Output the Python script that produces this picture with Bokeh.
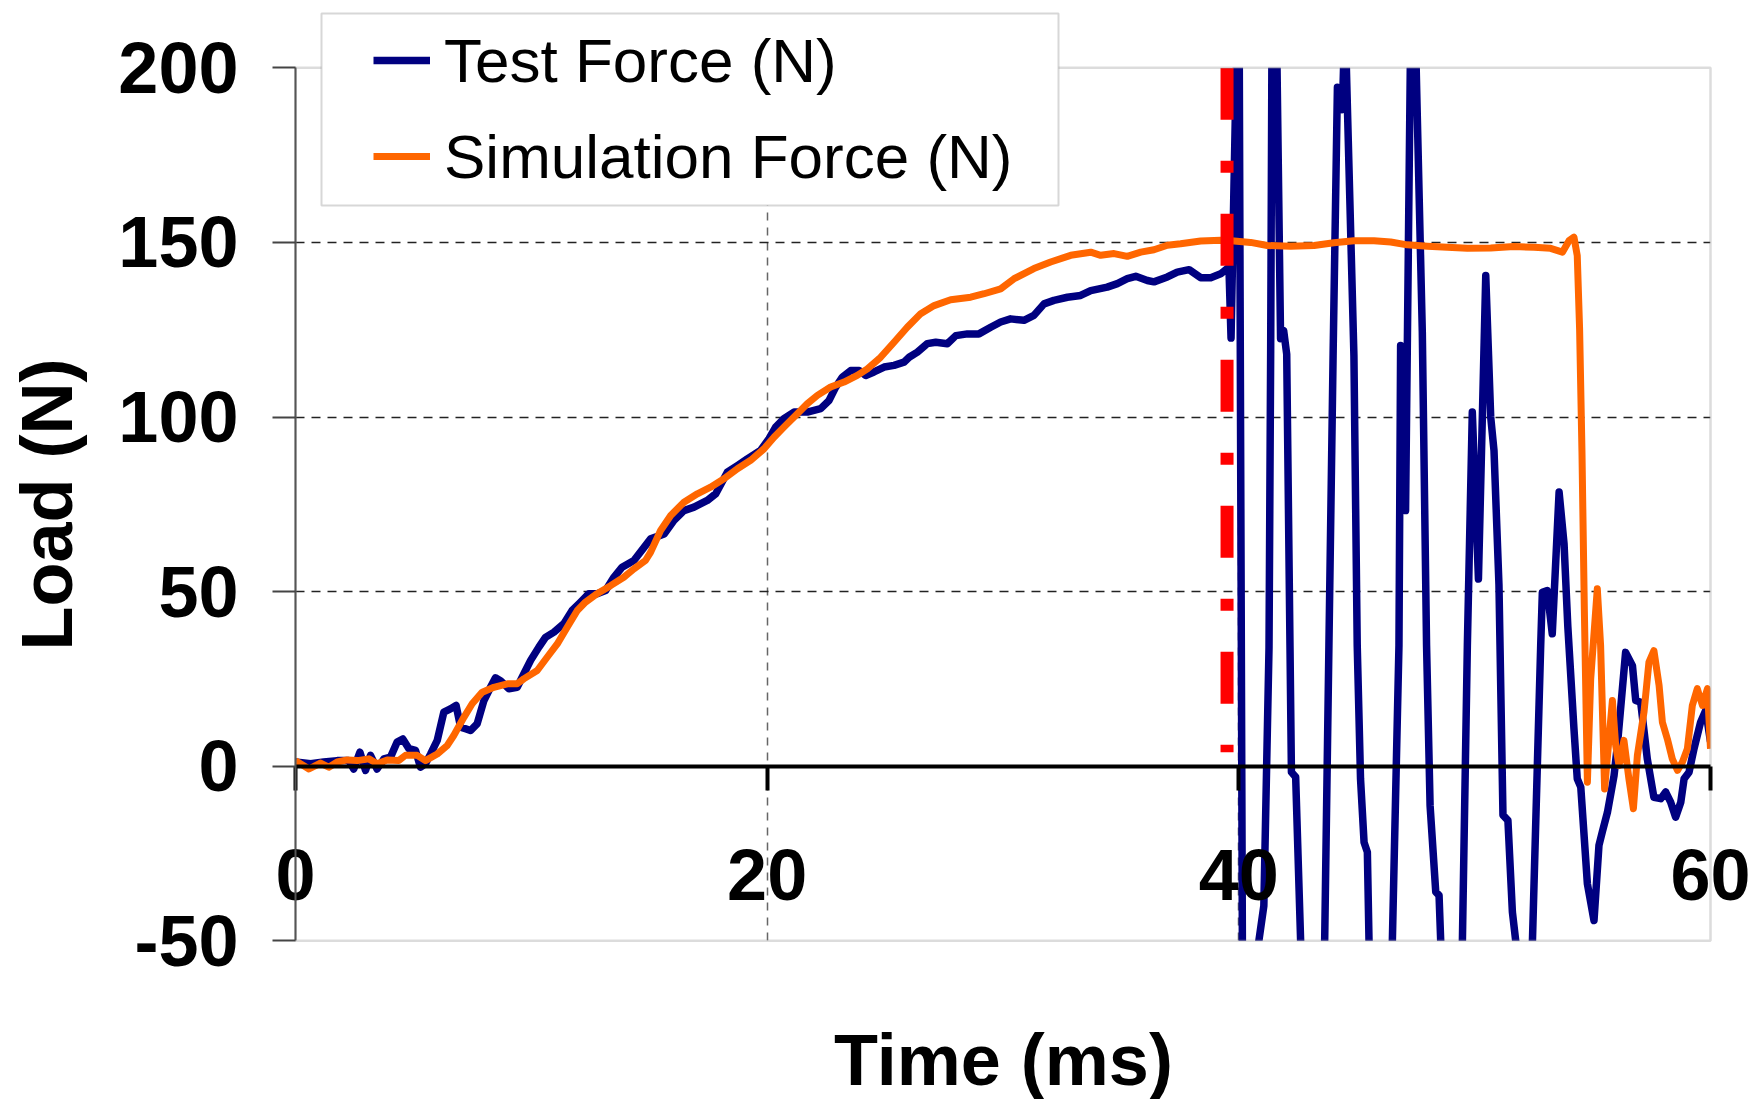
import math
from bokeh.plotting import figure
from bokeh.models import (Legend, LegendItem, BoxAnnotation, Label, FixedTicker,
                          Range1d)
from bokeh.embed import file_html
from bokeh.resources import INLINE

# ---------------- data ----------------
# Beyond the -50..200 window the test trace cannot be read; its excursions
# there are rough estimates and are hidden by the window anyway.
test_time = [
    0.0, 0.64, 1.2, 1.77, 2.26, 2.47, 2.73, 2.97, 3.18, 3.46, 3.75, 4.03, 4.31, 4.55, 4.81,
    5.09, 5.3, 5.51, 5.73, 6.01, 6.29, 6.57, 6.81, 7.0, 7.21, 7.42, 7.7, 7.99, 8.27, 8.48,
    8.69, 9.05, 9.4, 9.68, 9.97, 10.32, 10.6, 10.96, 11.38, 11.73, 12.09, 12.44, 12.79,
    13.15, 13.5, 13.85, 14.35,
    15.06, 15.63, 16.05, 16.47, 16.9, 17.46, 17.82, 18.31, 18.74, 19.16, 19.72, 20.08,
    20.36, 20.71, 21.14, 21.7, 22.27, 22.62, 22.9, 23.19, 23.54, 23.9, 24.18, 24.53, 24.96,
    25.38, 25.8, 26.02, 26.37, 26.79, 27.15, 27.64, 28.0, 28.49, 28.98, 29.48, 29.9,
    30.32, 30.89, 31.31, 31.74, 32.16, 32.73, 33.29, 33.72, 34.42, 34.85, 35.27, 35.63,
    36.12, 36.4, 36.97, 37.39, 37.89, 38.38, 38.81, 39.23, 39.58, 39.67,
    39.89, 39.95, 40.02, 40.15, 40.5, 40.85, 41.06, 41.28, 41.35, 41.4, 41.5, 41.62,
    41.77, 41.9, 42.03, 42.17, 42.23, 42.41, 42.62, 43.1, 43.64, 43.82, 44.0, 44.18,
    44.39, 44.44, 44.5, 44.56, 44.88, 45.02, 45.16, 45.31, 45.45, 45.52, 46.0, 46.51,
    46.79, 46.86, 47.07, 47.27, 47.35, 47.52, 47.78, 47.96, 48.11,
    48.35, 48.49, 48.56, 49.0, 49.48, 49.69, 49.9, 50.16, 50.47, 50.68, 50.82, 51.03,
    51.2, 51.41, 51.6, 51.74, 52.1, 52.45, 52.8, 52.87, 53.08, 53.29, 53.58, 53.79, 53.95,
    54.21, 54.35, 54.5, 54.78, 55.06, 55.27, 55.41, 55.63, 55.91, 56.05, 56.4, 56.69,
    56.83, 57.04, 57.32, 57.6, 57.89, 58.1, 58.31, 58.52, 58.74, 58.88, 59.09, 59.3,
    59.58, 59.8, 59.94, 60.0,
]
test_force = [
    1.2, 0.7, 1.2, 1.6, 1.6, -0.8, 4.0, -1.2, 3.1, -0.8, 2.1, 2.6, 6.9, 7.8, 5.0,
    4.5, -0.3, 0.7, 3.5, 7.4, 15.5, 16.4, 17.4, 11.2, 10.7, 10.2, 12.1, 18.8, 22.6, 25.3,
    24.5, 22.2, 22.6, 26.4, 30.3, 34.1, 36.9, 38.4, 40.8, 44.6, 47.0, 49.4, 49.4,
    50.3, 54.1, 57.0, 58.9,
    65.1, 66.5, 70.4, 73.2, 74.2, 76.1, 78.0, 84.2, 86.1, 88.0, 90.4, 93.8,
    97.1, 99.5, 101.4, 101.4, 102.4, 104.7, 108.5, 111.4, 113.3, 113.3, 111.9, 112.9, 114.3,
    114.8, 115.7, 117.1, 118.6, 121.0, 121.4, 121.0, 123.3, 123.8, 123.8, 125.7, 127.2,
    128.1, 127.7, 129.1, 132.4, 133.4, 134.3, 134.8, 136.2, 137.2, 138.2, 139.6, 140.3,
    139.1, 138.7, 140.1, 141.5, 142.2, 139.9, 139.9, 141.0, 142.9, 122.6,
    200, 210, 200, -50, -70, -50, -40, 34, 119, 200, 210, 200,
    122.4, 124.8, 118, 34, -1.7, -3.1, -50, -70, -50, 34.6, 119, 194.4,
    188, 200, 210, 200, 117.6, 34.6, -3.6, -21.8, -24.6, -50, -70, -50,
    34.6, 120.5, 73.2, 200, 210, 200, 124.3, 34.6, -11.3,
    -36, -37, -50, -70, -50, 34.6, 101.4, 53.6, 140.5, 100, 90.4, 52,
    -14, -15.5, -41.8, -50, -70, -50, 34.6, 49.8, 50.3, 37.9, 78.5, 63.7, 40,
    10.7, -3.6, -6, -33.7, -44.2, -22.7, -18.9, -13.2, -2.7, 5.9, 32.6, 28.8,
    18.8, 18.3, 2.1, -8.9, -9.3, -7.4, -10.3, -14.6, -10.3, -3.6, -1.7, 5,
    12.6, 16, 9.7, 7,
]

sim_time = [
    0.0, 0.57, 1.06, 1.41, 1.77, 2.19, 2.62, 3.11, 3.46, 3.89, 4.38, 4.66, 5.16, 5.51,
    6.01, 6.43, 6.71, 7.14, 7.49, 7.92, 8.41, 8.98, 9.4, 9.68, 10.25, 10.67, 11.1, 11.52,
    11.95, 12.3, 12.79, 13.36, 13.92, 14.35, 14.84,
    15.06, 15.48, 15.91, 16.47, 17.04, 17.6, 18.17, 18.74, 19.3, 19.87, 20.29, 20.71,
    21.28, 21.7, 22.13, 22.69, 23.26, 23.82, 24.25, 24.81, 25.38, 25.94, 26.51, 27.08,
    27.78, 28.63, 29.2,
    29.9, 30.47, 31.31, 32.02, 32.87, 33.72, 34.14, 34.71, 35.27, 35.84, 36.4, 36.97,
    37.53, 38.38, 39.23, 39.8, 40.5,
    41.21, 42.2, 43.19, 44.03, 44.88, 45.73, 46.44, 47.14, 48.0, 48.84, 49.69, 50.68,
    51.67, 52.52, 53.22, 53.72, 54.0, 54.21, 54.35, 54.45, 54.55, 54.65, 54.78, 54.92,
    55.2, 55.34, 55.51, 55.84, 55.98, 56.12, 56.33, 56.54, 56.73, 56.9, 57.18, 57.39,
    57.6, 57.82, 57.96, 58.17, 58.38, 58.6, 58.81, 59.02, 59.23, 59.44, 59.66, 59.87, 60.0,
]
sim_force = [
    1.6, -0.8, 0.9, -0.3, 1.2, 1.8, 1.6, 2.1, 0.7, 1.8, 1.6, 3.1, 3.1, 1.6,
    3.5, 5.9, 8.8, 14.0, 17.9, 21.2, 22.6, 23.6, 23.6, 25.0, 27.4, 31.2, 35.0, 39.8,
    44.6, 47.0, 49.4, 51.7, 54.1, 56.5, 58.9,
    61.3, 67.5, 71.8, 75.6, 78.0, 79.9, 82.3, 85.2, 87.6, 90.9, 94.2, 97.1,
    100.9, 103.8, 106.2, 108.6, 110.0, 111.9, 113.8, 117.1, 121.4, 125.7, 129.6, 131.9,
    133.6, 134.3, 135.3,
    136.7, 139.6, 142.5, 144.4, 146.3, 147.2, 146.3, 146.8, 146.0, 147.2, 147.9, 149.2,
    149.6, 150.4, 150.6, 150.4, 150.0,
    149.1, 148.9, 149.1, 149.9, 150.5, 150.5, 150.1, 149.3, 148.9, 148.6, 148.3, 148.4,
    148.8, 148.6, 148.3, 147.2, 150.5, 151.5, 146.2, 125, 90, 45, -4.6, 25,
    50.8, 34.6, -6.5, 18.8, 5.9, 0.2, 7.4, -3.6, -12.2, 3.1, 15.5, 29.8,
    33.1, 23.1, 12.6, 7.8, 2.1, -1.2, 1.2, 5, 17.4, 22.2, 17.4, 22.2, 5,
]

event_time = 39.5          # red dash-dot marker
event_top = 200
event_bottom = 4

x_min, x_max = 0, 60
y_min, y_max = -50, 200
x_ticks = [0, 20, 40, 60]
y_ticks = [-50, 0, 50, 100, 150, 200]
x_grid = [20, 40]
y_grid = [50, 100, 150]

series_labels = ["Test Force (N)", "Simulation Force (N)"]
x_title = "Time (ms)"
y_title = "Load (N)"

FONT = "Liberation Sans"
FRAME_GREY = "#8a8a8a"

# ---------------- page geometry (pixels) ----------------
W, H = 1756, 1099
PLOT_L, PLOT_R, PLOT_T, PLOT_B = 295, 1710, 67.3, 940.3   # the -50..200 x 0..60 window

# The frame fills the whole canvas; the area outside the data window is masked
# in white so that the legend and the titles can sit around it freely.
px_x = (PLOT_R - PLOT_L) / (x_max - x_min)
px_y = (PLOT_B - PLOT_T) / (y_max - y_min)
view_x = (x_min - PLOT_L / px_x, x_max + (W - PLOT_R) / px_x)
view_y = (y_min - (H - PLOT_B) / px_y, y_max + PLOT_T / px_y)
pad_x, pad_y = 5.0, 20.0   # masks reach past the canvas edges

p = figure(width=W, height=H, output_backend="svg", toolbar_location=None,
           x_range=Range1d(*view_x), y_range=Range1d(*view_y),
           min_border=0, min_border_left=0, min_border_right=0,
           min_border_top=0, min_border_bottom=0)
p.background_fill_color = "white"
p.border_fill_color = "white"
p.outline_line_color = None

# grid (kept inside the data window)
p.xgrid.ticker = FixedTicker(ticks=x_grid)
p.ygrid.ticker = FixedTicker(ticks=y_grid)
for g, cross in ((p.xgrid[0], (y_min, y_max)), (p.ygrid[0], (x_min, x_max))):
    try:
        g.cross_bounds = cross
    except Exception:
        pass
p.xgrid.grid_line_color = "#666666"
p.xgrid.grid_line_width = 1.5
p.xgrid.grid_line_dash = "8 7"
p.ygrid.grid_line_color = "#222222"
p.ygrid.grid_line_width = 1.5
p.ygrid.grid_line_dash = "9 7"

# y axis at x = 0
ya = p.yaxis[0]
ya.fixed_location = x_min
ya.level = "overlay"
ya.bounds = (y_min, y_max)
ya.ticker = FixedTicker(ticks=y_ticks)
ya.major_label_overrides = {t: str(t) for t in y_ticks}
ya.major_label_text_font = FONT
ya.major_label_text_font_size = "72px"
ya.major_label_text_font_style = "bold"
ya.major_label_text_color = "black"
ya.major_label_standoff = 34
ya.major_tick_out = 23
ya.major_tick_in = 0
ya.major_tick_line_color = "#444444"
ya.major_tick_line_width = 2
ya.minor_tick_line_color = None
ya.axis_line_color = "#555555"
ya.axis_line_width = 2

# x axis at y = 0
xa = p.xaxis[0]
xa.fixed_location = 0
xa.level = "overlay"
xa.bounds = (x_min, x_max)
xa.ticker = FixedTicker(ticks=x_ticks)
xa.major_label_text_font = FONT
xa.major_label_text_font_size = "72px"
xa.major_label_text_font_style = "bold"
xa.major_label_text_color = "black"
xa.major_label_standoff = 60
xa.major_tick_out = 24
xa.major_tick_in = 0
xa.major_tick_line_color = "black"
xa.major_tick_line_width = 4
xa.minor_tick_line_color = None
xa.axis_line_color = "black"
xa.axis_line_width = 4

# series
r_test = p.line(test_time, test_force, line_color="#000080", line_width=7.5,
                line_join="round")
r_sim = p.line(sim_time, sim_force, line_color="#FF6600", line_width=7,
               line_join="round")
p.segment(x0=[event_time], y0=[event_top], x1=[event_time], y1=[event_bottom],
          line_color="#FF0000", line_width=13, line_dash="52 41 12 41")

# white masks outside the data window, then the window's border
lo_x, hi_x = view_x[0] - pad_x, view_x[1] + pad_x
lo_y, hi_y = view_y[0] - pad_y, view_y[1] + pad_y
masks = [
    dict(left=lo_x, right=hi_x, bottom=y_max, top=hi_y),
    dict(left=lo_x, right=hi_x, bottom=lo_y, top=y_min),
    dict(left=lo_x, right=x_min, bottom=lo_y, top=hi_y),
    dict(left=x_max, right=hi_x, bottom=lo_y, top=hi_y),
]
for kw in masks:
    p.add_layout(BoxAnnotation(fill_color="white", fill_alpha=1.0, line_color=None, **kw))
p.add_layout(BoxAnnotation(left=x_min, right=x_max, bottom=y_min, top=y_max,
                           fill_alpha=0, line_color=FRAME_GREY, line_width=2.5))

# axis titles
p.add_layout(Label(x=46.5, y=H - 504, x_units="screen", y_units="screen",
                   text=y_title, angle=math.pi / 2, text_align="center",
                   text_baseline="alphabetic", text_font=FONT, text_font_size="72px",
                   text_font_style="bold", text_color="black"))
p.add_layout(Label(x=1003, y=H - 1059.5, x_units="screen", y_units="screen",
                   text=x_title, text_align="center", text_baseline="alphabetic",
                   text_font=FONT, text_font_size="72px", text_font_style="bold",
                   text_color="black"))

# legend box + legend
p.add_layout(BoxAnnotation(left=321, right=1058, bottom=H - 205, top=H - 13,
                           left_units="screen", right_units="screen",
                           bottom_units="screen", top_units="screen",
                           fill_color="white", fill_alpha=1.0,
                           line_color="#7a7a7a", line_width=2))
legend = Legend(items=[LegendItem(label=series_labels[0], renderers=[r_test]),
                       LegendItem(label=series_labels[1], renderers=[r_sim])],
                location=(373, H - 191.7), padding=0, margin=0, spacing=25,
                glyph_width=57, glyph_height=70, label_height=70, label_standoff=14,
                label_text_font=FONT, label_text_font_size="62px",
                label_text_color="black",
                border_line_alpha=0, background_fill_alpha=0)
p.add_layout(legend)

open("out.html", "w").write(file_html(p, INLINE))
